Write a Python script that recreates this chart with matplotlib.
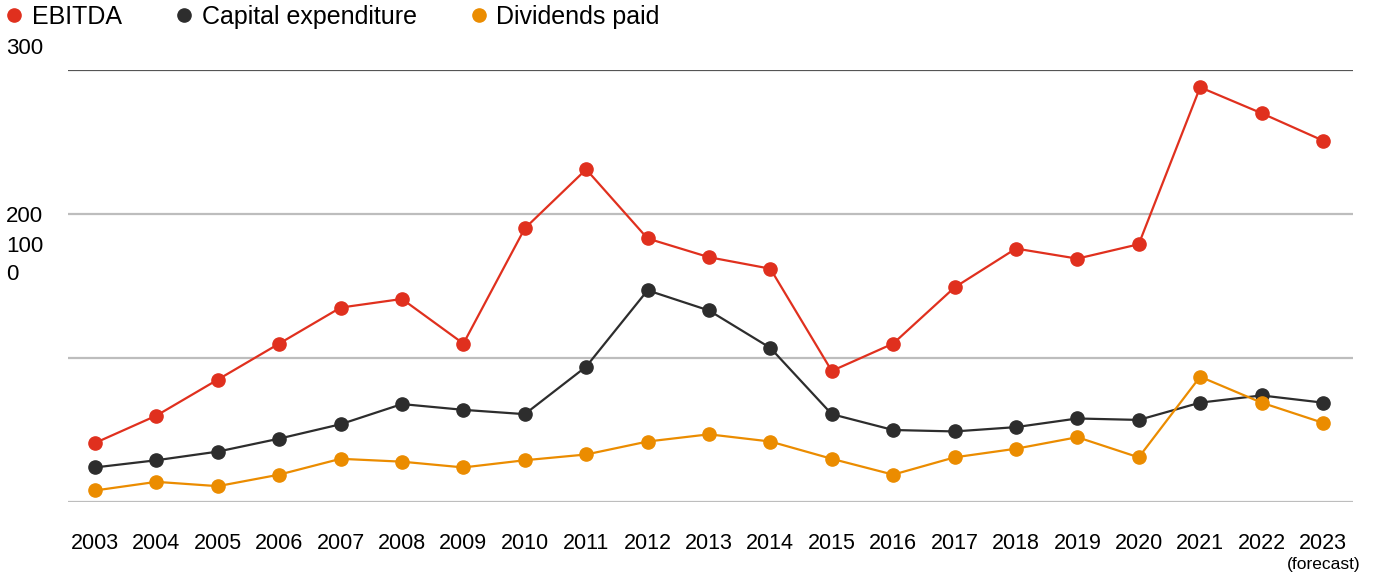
import numpy as np
import matplotlib
matplotlib.use("Agg")
import matplotlib.pyplot as plt

# Values
years = list(range(2003, 2024))
ebitda = [41, 60, 85, 110, 135, 141, 110, 190, 231, 183, 170, 162,
          91, 110, 149, 176, 169, 179, 288, 270, 251]
capex = [24, 29, 35, 44, 54, 68, 64, 61, 94, 147, 133, 107,
         61, 50, 49, 52, 58, 57, 69, 74, 69]
dividends = [8, 14, 11, 19, 30, 28, 24, 29, 33, 42, 47, 42,
             30, 19, 31, 37, 45, 31, 87, 69, 55]
y_levels = [0, 100, 200, 300]

series = [
    ("EBITDA", ebitda, "#e0301e"),
    ("Capital expenditure", capex, "#2d2d2d"),
    ("Dividends paid", dividends, "#eb8c00"),
]

plt.rcParams["font.family"] = ["Liberation Sans", "DejaVu Sans"]

fig = plt.figure(figsize=(13.74, 5.74), dpi=100)
ax = fig.add_axes([68 / 1374, 72 / 574, 1285 / 1374, 432 / 574])

# horizontal guide lines, top one darker
for v in y_levels:
    col = "#555555" if v == max(y_levels) else "#bdbdbd"
    ax.axhline(v, color=col, lw=1.6, zorder=0)

for name, vals, col in series:
    ax.plot(years, vals, color=col, lw=1.6, marker="o", ms=9.5,
            label=name, zorder=3)

ax.set_xlim(2002.56, 2023.49)
ax.set_ylim(0, 300)
ax.set_yticks([])
ax.set_xticks(years)
ax.set_xticklabels([str(y) for y in years], fontsize=15.5)
ax.tick_params(axis="x", length=0, pad=22)
for s in ax.spines.values():
    s.set_visible(False)

# y labels sit in odd spots in the original
ylab_pos = [274, 246, 216, 48]
for v, yp in zip(y_levels, ylab_pos):
    fig.text(6 / 1374, 1 - yp / 574, str(v), fontsize=16, va="center")
fig.text(1360 / 1374, 1 - 564 / 574, "(forecast)", fontsize=12.5,
         ha="right", va="center")

fig.legend(loc="upper left", bbox_to_anchor=(9 / 1374, 1 - 5 / 574), ncol=3,
           frameon=False, fontsize=18, handlelength=0.4,
           handletextpad=0.5, columnspacing=2.3, markerscale=1.0,
           borderpad=0, borderaxespad=0)

fig.savefig("out.png", dpi=100)
